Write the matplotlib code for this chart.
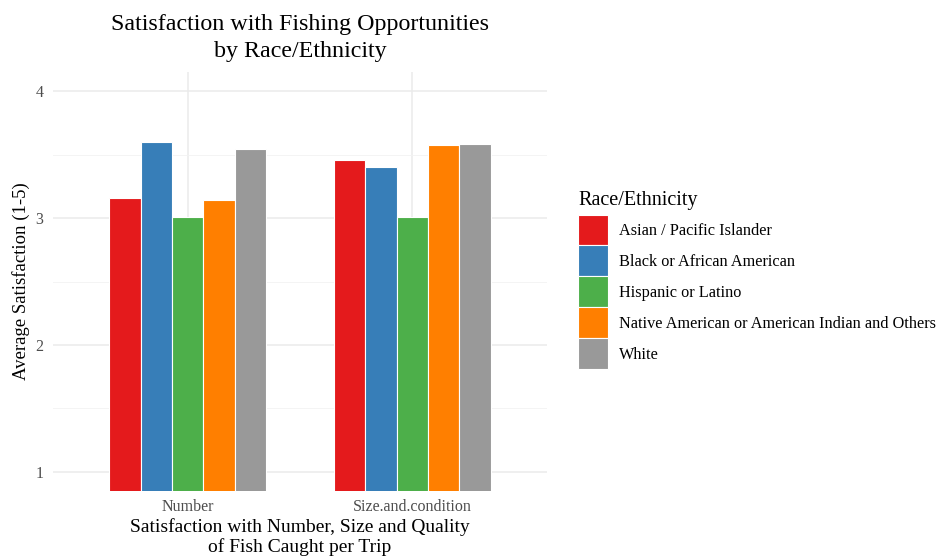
import numpy as np
import matplotlib.pyplot as plt
from matplotlib.patches import Patch

# data
categories = ["Number", "Size.and.condition"]
groups = ["Asian / Pacific Islander", "Black or African American",
          "Hispanic or Latino", "Native American or American Indian and Others",
          "White"]
asian = [3.155, 3.455]
black = [3.595, 3.405]
hispanic = [3.005, 3.005]
native = [3.145, 3.575]
white = [3.545, 3.585]
colors = ["#E41A1C", "#377EB8", "#4DAF4A", "#FF7F00", "#999999"]

series = [asian, black, hispanic, native, white]

plt.rcParams['font.family'] = ['Liberation Serif', 'DejaVu Serif']

fig = plt.figure(figsize=(9.43, 5.58), dpi=100)
ax = fig.add_axes([53/943, 1 - 491/558, (547-53)/943, (491-72)/558])

x = np.arange(1, len(categories) + 1)
bw = 0.14
for i, vals in enumerate(series):
    ax.bar(x + (i - 2) * bw, vals, width=bw, color=colors[i],
           edgecolor="white", linewidth=0.8, label=groups[i], zorder=3)

ax.set_xlim(0.4, 2.6)
ax.set_ylim(0.85, 4.15)
ax.set_yticks([1, 2, 3, 4])
ax.set_yticks([1.5, 2.5, 3.5], minor=True)
ax.set_xticks(x)
ax.set_xticklabels(categories)
ax.grid(which="major", color="#EBEBEB", linewidth=1.1, zorder=0)
ax.grid(which="minor", axis="y", color="#F2F2F2", linewidth=0.6, zorder=0)
for s in ax.spines.values():
    s.set_visible(False)
ax.tick_params(which="both", length=0, labelsize=11.5, colors="#4D4D4D")
ax.tick_params(axis="y", pad=7)
ax.tick_params(axis="x", pad=6)

ax.set_xlabel("Satisfaction with Number, Size and Quality\nof Fish Caught per Trip",
              fontsize=14, linespacing=1.18, labelpad=2)
ax.set_ylabel("Average Satisfaction (1-5)", fontsize=13.5, labelpad=4)
ax.set_title("Satisfaction with Fishing Opportunities\nby Race/Ethnicity",
             fontsize=17.3, linespacing=1.33, pad=11)

handles = [Patch(facecolor=c, edgecolor="white", linewidth=0.8) for c in colors]
leg = fig.legend(handles, groups, title="Race/Ethnicity", loc="upper left",
                 bbox_to_anchor=(567/943, 1 - 180/558), frameon=False,
                 fontsize=11.7, title_fontsize=14.5, handlelength=1.8,
                 handleheight=2.55, labelspacing=0.0, handletextpad=0.7,
                 borderpad=0.2)
leg._legend_box.align = "left"
leg._legend_box.sep = 3

fig.savefig("out.png", dpi=100)
